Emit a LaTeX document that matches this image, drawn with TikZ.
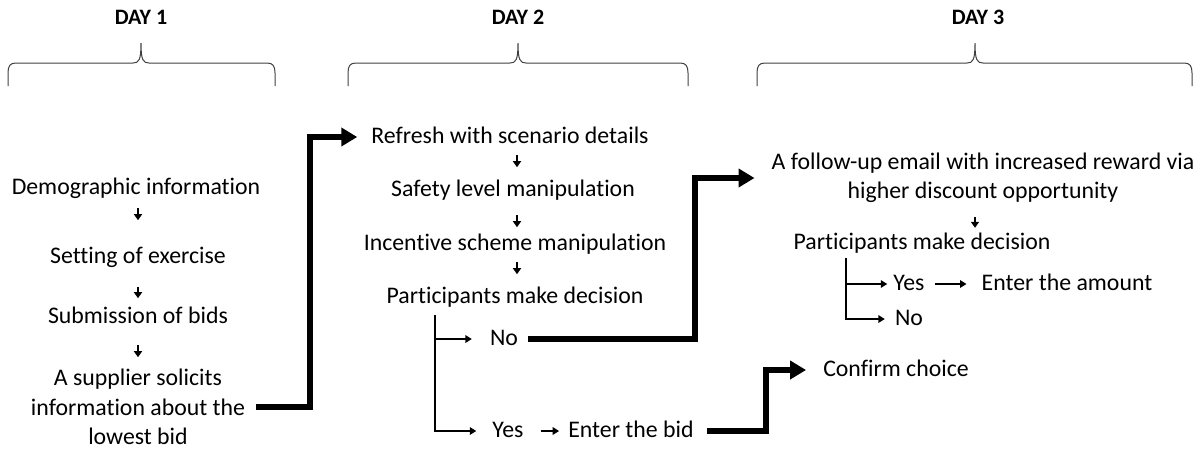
\documentclass[tikz,border=0pt]{standalone}
\usepackage{fontspec}
\setmainfont{Carlito}[Ligatures=NoCommon]
\usetikzlibrary{arrows.meta,calc}

% curly brace over one day: left end, tip, right end (x), all in pt
\newcommand{\dayspan}[3]{%
  \draw[brace] (#1,86) -- (#1,73)
    .. controls (#1,66) and ({#1+2},63) .. ({#1+8},63) -- ({#2-8},63)
    .. controls ({#2-2},63) and (#2,60) .. (#2,43)
    .. controls (#2,60) and ({#2+2},63) .. ({#2+8},63) -- ({#3-8},63)
    .. controls ({#3-2},63) and (#3,66) .. (#3,73) -- (#3,86);}

\begin{document}
\begin{tikzpicture}[x=1pt,y=-1pt,
  txt/.style={font=\fontsize{23.8}{30}\selectfont, inner sep=0pt, text height=17pt, text depth=5pt},
  mtxt/.style={font=\fontsize{23.8}{29.5}\selectfont, inner sep=0pt, align=center},
  daylbl/.style={font=\fontsize{22}{26}\selectfont\bfseries, inner sep=0pt},
  brace/.style={draw=black!75, line width=1pt},
  tick/.style={line width=1.8pt, -{Triangle[length=6pt,width=8pt]}},
  branch/.style={line width=2pt, -{Triangle[length=6.5pt,width=7.5pt]}},
  link/.style={line width=6pt, -{Triangle[length=16pt,width=18pt]}},
]
\useasboundingbox (0,0) rectangle (1202,451);

% day headings and braces
\node[daylbl] (d1) at (141,17) {DAY 1};
\node[daylbl] (d2) at (518,17) {DAY 2};
\node[daylbl] (d3) at (978,17) {DAY 3};
\dayspan{8}{141}{275}
\dayspan{348}{518}{688}
\dayspan{757}{975}{1192}

% day 1
\node[txt] (dem) at (136,188) {Demographic information};
\node[txt] (set) at (138,257) {Setting of exercise};
\node[txt] (sub) at (138,317) {Submission of bids};
\node[mtxt] (sup) at (138,407) {A supplier solicits\\information about the\\lowest bid};

% day 2
\node[txt] (ref) at (510,137) {Refresh with scenario details};
\node[txt] (saf) at (513,190) {Safety level manipulation};
\node[txt] (inc) at (515,244) {Incentive scheme manipulation};
\node[txt] (pd2) at (515,297) {Participants make decision};
\node[txt] (no2) at (504,339) {No};
\node[txt] (yes2) at (508,431) {Yes};
\node[txt] (bid) at (631,431) {Enter the bid};

% day 3
\node[mtxt] (fol) at (983,178) {A follow-up email with increased reward via\\higher discount opportunity};
\node[txt] (pd3) at (922,243) {Participants make decision};
\node[txt] (yes3) at (909,284) {Yes};
\node[txt] (amt) at (1067,284) {Enter the amount};
\node[txt] (no3) at (909,319) {No};
\node[txt] (cnf) at (896,370) {Confirm choice};

% short steps within a day
\draw[tick] ([xshift=2pt,yshift=-9pt]dem.south) -- ++(0,12);
\draw[tick] ([yshift=-19pt]set.south) -- ++(0,11);
\draw[tick] ([yshift=-17pt]sub.south) -- ++(0,12);
\draw[tick] ([xshift=7pt,yshift=-7pt]ref.south) -- ++(0,12);
\draw[tick] ([xshift=4pt,yshift=-14pt]saf.south) -- ++(0,12);
\draw[tick] ([xshift=2pt,yshift=-7pt]inc.south) -- ++(0,12);
\draw[tick] ([xshift=53pt,yshift=15pt]pd3.north) -- ([xshift=53pt,yshift=4pt]pd3.north);

% decision branches
\coordinate (b2) at (435,315);
\draw[branch, shorten >=18pt] (b2) |- (no2.west);
\draw[branch, shorten >=16pt] (b2) |- (yes2.west);
\draw[branch, shorten <=17pt, shorten >=9pt] (yes2.east) -- (bid.west);

\coordinate (b3) at (846,258);
\draw[branch, shorten >=6pt] (b3) |- (yes3.west);
\draw[branch, shorten >=10pt] (b3) |- (no3.west);
\draw[branch, shorten <=10pt, shorten >=15pt] (yes3.east) -- (amt.west);

% links between days
\coordinate (k1) at (310,0);
\coordinate (k2) at (695,0);
\coordinate (k3) at (766,0);
\draw[link, shorten <=11pt, shorten >=14pt] (sup.east) -| (k1 |- ref.west) -- (ref.west);
\draw[link, shorten <=10pt, shorten >=17pt] (no2.east) -| (k2 |- fol.west) -- (fol.west);
\draw[link, shorten <=13pt, shorten >=17pt] (bid.east) -| (k3 |- cnf.west) -- (cnf.west);
\end{tikzpicture}
\end{document}
